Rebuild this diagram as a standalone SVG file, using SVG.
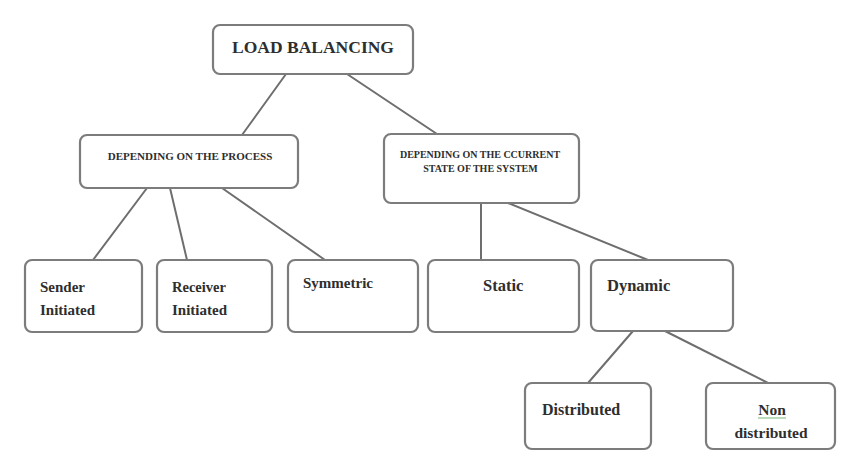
<svg xmlns="http://www.w3.org/2000/svg" width="849" height="452" viewBox="0 0 849 452">
  <style>
    .box { fill: #ffffff; stroke: #7c7c7c; stroke-width: 2.2; }
    .edge { stroke: #6e6e6e; stroke-width: 2; fill: none; stroke-linecap: round; }
    .t { font-family: "Liberation Serif", "Times New Roman", serif; font-weight: bold; fill: #2e2e2e; }
    .mid { text-anchor: middle; }
  </style>
  <rect width="849" height="452" fill="#ffffff"/>

  <g id="connectors">
    <line class="edge" x1="286" y1="74" x2="242" y2="135"/>
    <line class="edge" x1="347" y1="74" x2="437" y2="134"/>
    <line class="edge" x1="147" y1="188" x2="93" y2="260"/>
    <line class="edge" x1="170" y1="188" x2="187" y2="260"/>
    <line class="edge" x1="222" y1="188" x2="325" y2="260"/>
    <line class="edge" x1="481" y1="203" x2="481" y2="260"/>
    <line class="edge" x1="508" y1="203" x2="648" y2="260"/>
    <line class="edge" x1="633" y1="331" x2="588" y2="383"/>
    <line class="edge" x1="665" y1="331" x2="768" y2="383"/>
  </g>

  <g id="load-balancing">
    <rect class="box" x="213" y="25" width="200" height="49" rx="7"/>
    <text class="t mid" x="313" y="53" font-size="17.5">LOAD BALANCING</text>
  </g>

  <g id="depending-process">
    <rect class="box" x="80" y="135" width="218" height="53" rx="7"/>
    <text class="t mid" x="190" y="160" font-size="11">DEPENDING ON THE PROCESS</text>
  </g>

  <g id="depending-state">
    <rect class="box" x="384" y="134" width="195" height="69" rx="7"/>
    <text class="t mid" x="480" y="158" font-size="10">DEPENDING ON THE CCURRENT</text>
    <text class="t mid" x="480.5" y="172" font-size="10">STATE OF THE SYSTEM</text>
  </g>

  <g id="sender-initiated">
    <rect class="box" x="25" y="260" width="117" height="72" rx="7"/>
    <text class="t" x="40" y="292" font-size="15">Sender</text>
    <text class="t" x="40" y="315" font-size="15">Initiated</text>
  </g>

  <g id="receiver-initiated">
    <rect class="box" x="157" y="260" width="115" height="72" rx="7"/>
    <text class="t" x="172" y="292" font-size="14.5">Receiver</text>
    <text class="t" x="172" y="315" font-size="15">Initiated</text>
  </g>

  <g id="symmetric">
    <rect class="box" x="288" y="260" width="130" height="72" rx="7"/>
    <text class="t" x="303" y="288" font-size="15">Symmetric</text>
  </g>

  <g id="static">
    <rect class="box" x="428" y="260" width="151" height="72" rx="7"/>
    <text class="t" x="483" y="291" font-size="16.5">Static</text>
  </g>

  <g id="dynamic">
    <rect class="box" x="591" y="260" width="142" height="71" rx="7"/>
    <text class="t" x="607" y="291" font-size="16.5">Dynamic</text>
  </g>

  <g id="distributed">
    <rect class="box" x="525" y="383" width="126" height="66" rx="7"/>
    <text class="t" x="542" y="415" font-size="16">Distributed</text>
  </g>

  <g id="non-distributed">
    <rect class="box" x="706" y="383" width="129" height="66" rx="7"/>
    <text class="t mid" x="772" y="415" font-size="15.5">Non</text>
    <line x1="758" y1="418" x2="786" y2="418" stroke="#8fc48f" stroke-width="1.2"/>
    <text class="t mid" x="771" y="438" font-size="15.5">distributed</text>
  </g>
</svg>
